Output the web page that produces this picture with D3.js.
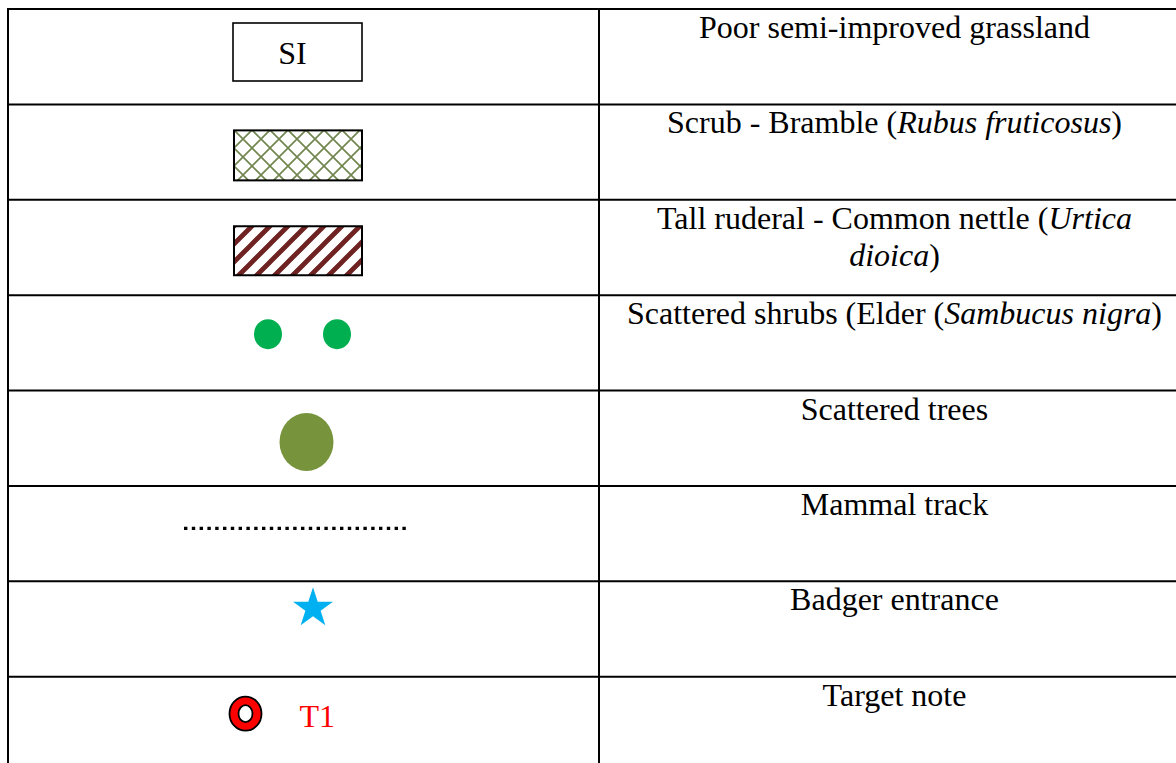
<!DOCTYPE html>
<html lang="en">
<head>
    <meta charset="UTF-8">
    <title>Habitat map legend</title>
    <style>
        body {
            margin: 0;
            background: #ffffff;
        }
        svg {
            display: block;
        }
        .desc {
            font-family: 'Liberation Serif', 'Times New Roman', serif;
            font-size: 32px;
            fill: #000;
        }
    </style>
</head>
<body>
    <div id="chart"></div>

    <script src="https://d3js.org/d3.v7.min.js"></script>
    <script>
        // legend rows, top to bottom
        const rowKeys = ['grassland', 'scrub', 'nettle', 'shrubs', 'trees', 'track', 'badger', 'target'];
        // *...* marks italic, \n a line break
        const descriptions = [
            'Poor semi-improved grassland',
            'Scrub - Bramble (*Rubus fruticosus*)',
            'Tall ruderal - Common nettle (*Urtica*\n*dioica*)',
            'Scattered shrubs (Elder (*Sambucus nigra*)',
            'Scattered trees',
            'Mammal track',
            'Badger entrance',
            'Target note'
        ];
        const boxLabel = 'SI';
        const targetLabel = 'T1';
        const columns = ['symbol', 'description'];

        const width = 1176, height = 763;

        const svg = d3.select('#chart')
            .append('svg')
            .attr('width', width)
            .attr('height', height)
            .style('background', '#ffffff');

        const y = d3.scaleBand().domain(rowKeys).range([9, 772]);
        const x = d3.scaleBand().domain(columns).range([8, 1190]);
        const symX = x('symbol') + x.bandwidth() / 2;
        const descX = x('description') + x.bandwidth() / 2;

        const defs = svg.append('defs');

        // crosshatch for bramble scrub
        const hatch = defs.append('pattern')
            .attr('id', 'hatch')
            .attr('patternUnits', 'userSpaceOnUse')
            .attr('width', 18)
            .attr('height', 18)
            .attr('x', 234)
            .attr('y', 130);
        hatch.append('rect').attr('width', 18).attr('height', 18).attr('fill', '#fff');
        hatch.append('path')
            .attr('d', 'M0,0L18,18M-9,9L9,27M9,-9L27,9M0,18L18,0M-9,9L9,-9M9,27L27,9')
            .attr('stroke', '#72874f')
            .attr('stroke-width', 1.7)
            .attr('fill', 'none');

        // diagonal stripes for nettle
        const stripes = defs.append('pattern')
            .attr('id', 'stripes')
            .attr('patternUnits', 'userSpaceOnUse')
            .attr('width', 18)
            .attr('height', 18)
            .attr('x', 234)
            .attr('y', 226);
        stripes.append('rect').attr('width', 18).attr('height', 18).attr('fill', '#fff');
        stripes.append('path')
            .attr('d', 'M-2,20L20,-2M-11,11L11,-11M7,29L29,7')
            .attr('stroke', '#6e2222')
            .attr('stroke-width', 4.8)
            .attr('fill', 'none');

        // grid lines
        const grid = svg.append('g').attr('stroke', '#000').attr('stroke-width', 2);
        grid.selectAll('line.h')
            .data(rowKeys.concat(['end']))
            .join('line')
            .attr('class', 'h')
            .attr('x1', x.range()[0] - 1)
            .attr('x2', x.range()[1])
            .attr('y1', d => d === 'end' ? y.range()[1] : y(d))
            .attr('y2', d => d === 'end' ? y.range()[1] : y(d));
        grid.selectAll('line.v')
            .data(columns.concat(['end']))
            .join('line')
            .attr('class', 'v')
            .attr('y1', y.range()[0])
            .attr('y2', y.range()[1])
            .attr('x1', d => d === 'end' ? x.range()[1] : x(d))
            .attr('x2', d => d === 'end' ? x.range()[1] : x(d));

        // description text, one <text> per line, italics as tspans
        descriptions.forEach((d, i) => {
            d.split('\n').forEach((line, li) => {
                const t = svg.append('text')
                    .attr('class', 'desc')
                    .attr('text-anchor', 'middle')
                    .attr('x', descX)
                    .attr('y', y(rowKeys[i]) + 29 + li * 37);
                line.split('*').forEach((part, pi) => {
                    if (!part) return;
                    const ts = t.append('tspan').text(part);
                    if (pi % 2 === 1) ts.attr('font-style', 'italic');
                });
            });
        });

        // swatches
        const sw = svg.append('g');
        let rowTop;

        // SI box
        rowTop = y('grassland');
        sw.append('rect')
            .attr('x', symX - 70.5).attr('y', rowTop + 14)
            .attr('width', 129).attr('height', 58)
            .attr('fill', '#fff').attr('stroke', '#000').attr('stroke-width', 1.6);
        sw.append('text')
            .attr('class', 'desc')
            .attr('text-anchor', 'middle')
            .attr('x', symX - 11).attr('y', rowTop + 55)
            .text(boxLabel);

        // bramble
        rowTop = y('scrub');
        sw.append('rect')
            .attr('x', symX - 69.5).attr('y', rowTop + 26)
            .attr('width', 128).attr('height', 50)
            .attr('fill', 'url(#hatch)').attr('stroke', '#000').attr('stroke-width', 2);

        // nettle
        rowTop = y('nettle');
        sw.append('rect')
            .attr('x', symX - 69.5).attr('y', rowTop + 26.5)
            .attr('width', 128).attr('height', 49)
            .attr('fill', 'url(#stripes)').attr('stroke', '#000').attr('stroke-width', 2);

        // shrubs
        rowTop = y('shrubs');
        sw.selectAll('ellipse.shrub')
            .data([-35.5, 33.5])
            .join('ellipse')
            .attr('class', 'shrub')
            .attr('cx', d => symX + d).attr('cy', rowTop + 39)
            .attr('rx', 14).attr('ry', 15)
            .attr('fill', '#00b050');

        // trees
        rowTop = y('trees');
        sw.append('ellipse')
            .attr('cx', symX + 3).attr('cy', rowTop + 51.5)
            .attr('rx', 27).attr('ry', 29)
            .attr('fill', '#77933c');

        // mammal track
        rowTop = y('track');
        sw.append('line')
            .attr('x1', symX - 119.5).attr('x2', symX + 106.5)
            .attr('y1', rowTop + 42.5).attr('y2', rowTop + 42.5)
            .attr('stroke', '#000').attr('stroke-width', 3.4)
            .attr('stroke-dasharray', '3.4 4.4');

        // badger entrance
        rowTop = y('badger');
        const R = 21;
        sw.append('path')
            .attr('d', d3.symbol().type(d3.symbolStar).size(R * R / 0.8908130915292852)())
            .attr('transform', `translate(${symX + 9.5},${rowTop + 27})`)
            .attr('fill', '#00b0f0');

        // target note
        rowTop = y('target');
        sw.append('ellipse')
            .attr('cx', symX - 58).attr('cy', rowTop + 37)
            .attr('rx', 16).attr('ry', 17)
            .attr('fill', '#ff0000').attr('stroke', '#000').attr('stroke-width', 1.8);
        sw.append('ellipse')
            .attr('cx', symX - 58).attr('cy', rowTop + 37)
            .attr('rx', 7).attr('ry', 8.5)
            .attr('fill', '#fff').attr('stroke', '#000').attr('stroke-width', 1.8);
        sw.append('text')
            .attr('class', 'desc')
            .attr('x', symX - 4).attr('y', rowTop + 50)
            .style('fill', '#ff0000')
            .text(targetLabel);
    </script>
</body>
</html>
